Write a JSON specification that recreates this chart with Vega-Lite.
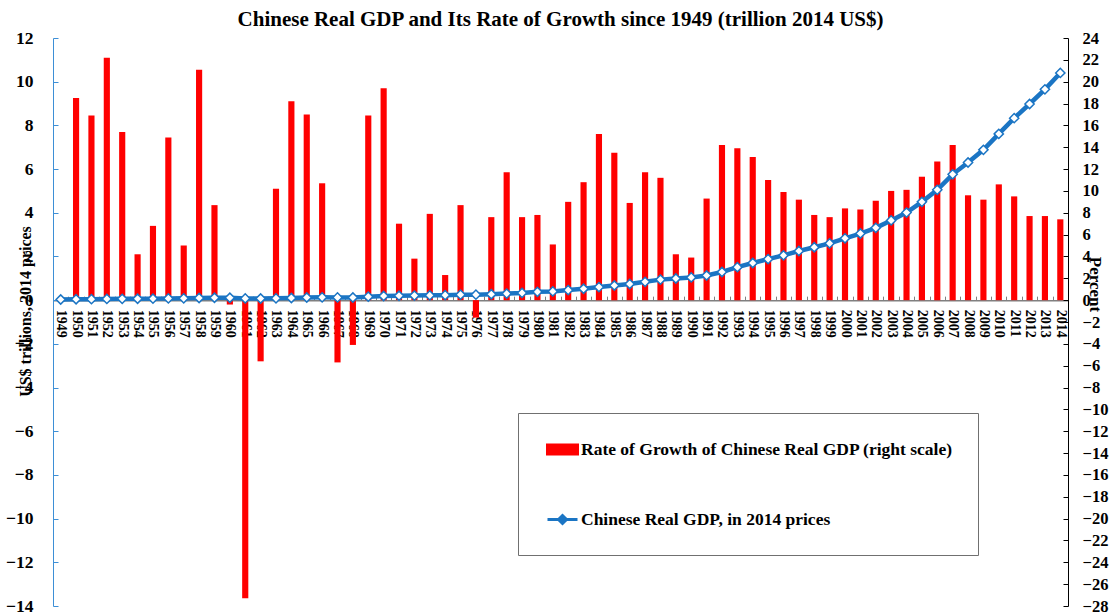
{
  "$schema": "https://vega.github.io/schema/vega-lite/v6.json",
  "width": 1015,
  "height": 568,
  "autosize": {"type": "none"},
  "padding": {"left": 53, "top": 38, "right": 42, "bottom": 6},
  "background": "white",
  "config": {"view": {"stroke": null}, "font": "Liberation Serif"},
  "title": {"text": "Chinese Real GDP and Its Rate of Growth since 1949 (trillion 2014 US$)", "fontSize": 21, "font": "Liberation Serif", "fontWeight": "bold", "anchor": "middle", "offset": -1, "color": "black"},
  "data": {"values": [
    {"year": "1949", "growth": null, "gdp": 0.03},
    {"year": "1950", "growth": 18.5, "gdp": 0.04},
    {"year": "1951", "growth": 16.9, "gdp": 0.045},
    {"year": "1952", "growth": 22.2, "gdp": 0.055},
    {"year": "1953", "growth": 15.4, "gdp": 0.06},
    {"year": "1954", "growth": 4.2, "gdp": 0.065},
    {"year": "1955", "growth": 6.8, "gdp": 0.07},
    {"year": "1956", "growth": 14.9, "gdp": 0.08},
    {"year": "1957", "growth": 5.0, "gdp": 0.085},
    {"year": "1958", "growth": 21.1, "gdp": 0.1},
    {"year": "1959", "growth": 8.7, "gdp": 0.11},
    {"year": "1960", "growth": -0.4, "gdp": 0.11},
    {"year": "1961", "growth": -27.3, "gdp": 0.08},
    {"year": "1962", "growth": -5.6, "gdp": 0.075},
    {"year": "1963", "growth": 10.2, "gdp": 0.085},
    {"year": "1964", "growth": 18.2, "gdp": 0.1},
    {"year": "1965", "growth": 17.0, "gdp": 0.12},
    {"year": "1966", "growth": 10.7, "gdp": 0.13},
    {"year": "1967", "growth": -5.7, "gdp": 0.125},
    {"year": "1968", "growth": -4.1, "gdp": 0.12},
    {"year": "1969", "growth": 16.9, "gdp": 0.16},
    {"year": "1970", "growth": 19.4, "gdp": 0.19},
    {"year": "1971", "growth": 7.0, "gdp": 0.2},
    {"year": "1972", "growth": 3.8, "gdp": 0.21},
    {"year": "1973", "growth": 7.9, "gdp": 0.22},
    {"year": "1974", "growth": 2.3, "gdp": 0.23},
    {"year": "1975", "growth": 8.7, "gdp": 0.25},
    {"year": "1976", "growth": -1.6, "gdp": 0.25},
    {"year": "1977", "growth": 7.6, "gdp": 0.27},
    {"year": "1978", "growth": 11.7, "gdp": 0.3},
    {"year": "1979", "growth": 7.6, "gdp": 0.33},
    {"year": "1980", "growth": 7.8, "gdp": 0.38},
    {"year": "1981", "growth": 5.1, "gdp": 0.4},
    {"year": "1982", "growth": 9.0, "gdp": 0.46},
    {"year": "1983", "growth": 10.8, "gdp": 0.52},
    {"year": "1984", "growth": 15.2, "gdp": 0.6},
    {"year": "1985", "growth": 13.5, "gdp": 0.67},
    {"year": "1986", "growth": 8.9, "gdp": 0.74},
    {"year": "1987", "growth": 11.7, "gdp": 0.84},
    {"year": "1988", "growth": 11.2, "gdp": 0.94},
    {"year": "1989", "growth": 4.2, "gdp": 0.99},
    {"year": "1990", "growth": 3.9, "gdp": 1.04},
    {"year": "1991", "growth": 9.3, "gdp": 1.13},
    {"year": "1992", "growth": 14.2, "gdp": 1.29},
    {"year": "1993", "growth": 13.9, "gdp": 1.51},
    {"year": "1994", "growth": 13.1, "gdp": 1.7},
    {"year": "1995", "growth": 11.0, "gdp": 1.88},
    {"year": "1996", "growth": 9.9, "gdp": 2.05},
    {"year": "1997", "growth": 9.2, "gdp": 2.25},
    {"year": "1998", "growth": 7.8, "gdp": 2.42},
    {"year": "1999", "growth": 7.6, "gdp": 2.6},
    {"year": "2000", "growth": 8.4, "gdp": 2.83},
    {"year": "2001", "growth": 8.3, "gdp": 3.05},
    {"year": "2002", "growth": 9.1, "gdp": 3.31},
    {"year": "2003", "growth": 10.0, "gdp": 3.65},
    {"year": "2004", "growth": 10.1, "gdp": 4.01},
    {"year": "2005", "growth": 11.3, "gdp": 4.5},
    {"year": "2006", "growth": 12.7, "gdp": 5.05},
    {"year": "2007", "growth": 14.2, "gdp": 5.76},
    {"year": "2008", "growth": 9.6, "gdp": 6.3},
    {"year": "2009", "growth": 9.2, "gdp": 6.88},
    {"year": "2010", "growth": 10.6, "gdp": 7.61},
    {"year": "2011", "growth": 9.5, "gdp": 8.33},
    {"year": "2012", "growth": 7.7, "gdp": 8.98},
    {"year": "2013", "growth": 7.7, "gdp": 9.65},
    {"year": "2014", "growth": 7.4, "gdp": 10.4}
  ]},
  "encoding": {
    "x": {
      "field": "year", "type": "ordinal",
      "scale": {"paddingInner": 0, "paddingOuter": 0},
      "axis": {"title": null, "labelAngle": 90, "labelAlign": "left", "labelBaseline": "middle", "labelFont": "Liberation Serif", "labelFontWeight": "bold", "labelFontSize": 14, "labelColor": "black", "domainColor": "#808080", "domainWidth": 1.5, "tickColor": "#808080", "tickSize": -4, "tickBand": "extent", "offset": -305.85, "labelPadding": 13, "grid": false}
    }
  },
  "layer": [
    {
      "mark": {"type": "bar", "width": {"band": 0.4}},
      "encoding": {
        "y": {"field": "growth", "type": "quantitative", "scale": {"domain": [-28, 24], "nice": false},
          "axis": {"orient": "right", "title": "Percent", "values": [-28,-26,-24,-22,-20,-18,-16,-14,-12,-10,-8,-6,-4,-2,0,2,4,6,8,10,12,14,16,18,20,22,24], "domainColor": "black", "tickColor": "black", "tickSize": -5, "labelPadding": 19, "labelFont": "Liberation Serif", "labelFontWeight": "bold", "labelFontSize": 16.5, "labelColor": "black", "grid": false, "titleFont": "Liberation Serif", "titleFontSize": 17, "titleFontWeight": "bold", "titleColor": "black", "titleX": 26, "titleY": 246, "titleAngle": 90, "titleAlign": "center", "titleBaseline": "middle"}},
        "color": {"datum": "Rate of Growth of Chinese Real GDP (right scale)", "type": "nominal",
          "scale": {"domain": ["Rate of Growth of Chinese Real GDP (right scale)", "Chinese Real GDP, in 2014 prices"], "range": ["#ff0000", "#1b75c4"]},
          "legend": {"title": null, "orient": "none", "legendX": 465, "legendY": 375, "fillColor": "white", "strokeColor": "#707070", "padding": 25, "rowPadding": 48, "labelFont": "Liberation Serif", "labelFontWeight": "bold", "labelFontSize": 17.5, "labelColor": "black", "labelLimit": 600, "labelOffset": 15, "symbolSize": 400,
            "encode": {"symbols": {"update": {
              "shape": {"signal": "datum.value === 'Chinese Real GDP, in 2014 prices' ? 'M-0.7,0H0.4M1.2,0H2.3M0.4,0L0.8,-0.4L1.2,0L0.8,0.4Z' : 'M-0.7,-0.45H2.3V0.45H-0.7Z'"},
              "fill": {"signal": "datum.value === 'Chinese Real GDP, in 2014 prices' ? 'white' : '#ff0000'"},
              "stroke": {"signal": "datum.value === 'Chinese Real GDP, in 2014 prices' ? '#1b75c4' : 'transparent'"},
              "strokeWidth": {"value": 3},
              "opacity": {"value": 1},
              "fillOpacity": {"value": 1},
              "strokeOpacity": {"value": 1}
            }}}}
        }
      }
    },
    {
      "layer": [
        {
          "mark": {"type": "line", "strokeWidth": 4.5},
          "encoding": {
            "y": {"field": "gdp", "type": "quantitative", "scale": {"domain": [-14, 12], "nice": false},
              "axis": {"orient": "left", "title": "US$ trillions, 2014 prices", "values": [-14,-12,-10,-8,-6,-4,-2,0,2,4,6,8,10,12], "domainColor": "#3d8fd6", "tickColor": "#3d8fd6", "tickSize": -5, "labelPadding": 25, "labelFont": "Liberation Serif", "labelFontWeight": "bold", "labelFontSize": 17.5, "labelColor": "black", "grid": false, "titleFont": "Liberation Serif", "titleFontSize": 16, "titleFontWeight": "bold", "titleColor": "black", "titleX": -28, "titleY": 273, "titleAngle": -90, "titleAlign": "center", "titleBaseline": "middle"}},
            "color": {"datum": "Chinese Real GDP, in 2014 prices", "type": "nominal"}
          }
        },
        {
          "mark": {"type": "point", "shape": "diamond", "filled": true, "fill": "white", "stroke": "#1b75c4", "strokeWidth": 1.5, "size": 85, "opacity": 1},
          "encoding": {
            "y": {"field": "gdp", "type": "quantitative"}
          }
        }
      ]
    }
  ],
  "resolve": {"scale": {"y": "independent"}}
}
